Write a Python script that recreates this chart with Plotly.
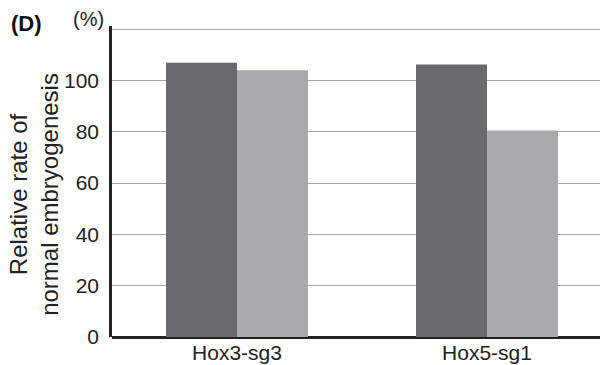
import plotly.graph_objects as go

categories = ["Hox3-sg3", "Hox5-sg1"]
series_dark = [106.9, 106.2]
series_light = [104.0, 80.5]
y_ticks = [0, 20, 40, 60, 80, 100, 120]
y_tick_labels = ["0", "20", "40", "60", "80", "100", ""]

fig = go.Figure()
fig.add_trace(go.Bar(x=categories, y=series_dark, marker=dict(color="#6a6a6e", line=dict(width=0)), showlegend=False))
fig.add_trace(go.Bar(x=categories, y=series_light, marker=dict(color="#a9aaae", line=dict(width=0)), showlegend=False))

fig.update_layout(
    width=600, height=365,
    margin=dict(l=112, r=0, t=26, b=28),
    paper_bgcolor="white", plot_bgcolor="white",
    barmode="group", bargap=0.432, bargroupgap=0,
    font=dict(family="Liberation Sans, Arial, sans-serif", color="#222"),
    xaxis=dict(range=[-0.5, 1.452], showgrid=False, showline=False, ticks="",
               tickfont=dict(size=21), fixedrange=True, automargin=False,
               ticklabelstandoff=1),
    yaxis=dict(range=[0, 121.2], tickvals=y_ticks, ticktext=y_tick_labels,
               showgrid=True, gridcolor="#a8a8a8", gridwidth=1.3,
               showline=True, linecolor="#222", linewidth=2.5,
               zeroline=True, zerolinecolor="#222", zerolinewidth=3,
               ticks="", ticklabelstandoff=6, tickfont=dict(size=21),
               automargin=False, fixedrange=True),
    annotations=[
        dict(text="Relative rate of<br>normal embryogenesis", textangle=-90,
             xref="paper", yref="paper", x=-0.16, y=0.46, xanchor="center", yanchor="middle",
             showarrow=False, font=dict(size=24)),
        dict(text="<b>(D)</b>", xref="paper", yref="paper", x=-0.176, y=1.007,
             xanchor="center", yanchor="middle", showarrow=False, font=dict(size=22, color="#111")),
        dict(text="(%)", xref="paper", yref="paper", x=-0.048, y=1.024,
             xanchor="center", yanchor="middle", showarrow=False, font=dict(size=20)),
    ],
)
fig.write_html("out.html", config={"displayModeBar": False},
               post_script="document.body.style.margin='0';")
